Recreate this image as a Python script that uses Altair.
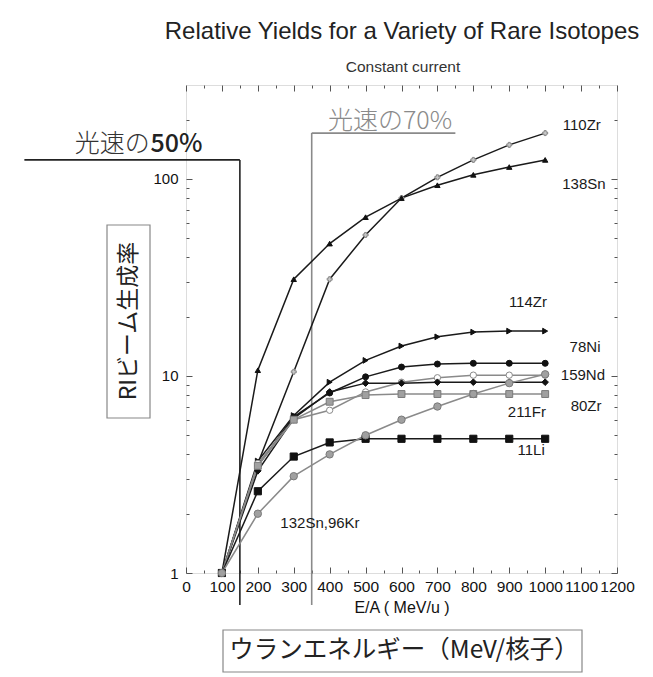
import altair as alt
import pandas as pd

# ---------------- data ----------------
energy = [100, 200, 300, 400, 500, 600, 700, 800, 900, 1000]

series_names = ["110Zr", "138Sn", "114Zr", "78Ni", "159Nd", "80Zr", "211Fr", "11Li", "132Sn,96Kr"]
y_110Zr = [1, 3.6, 10.5, 31, 52, 80, 102, 125, 149, 171]
y_138Sn = [1, 10.7, 31, 47, 64, 80, 93, 105, 115, 125]
y_114Zr = [1, 3.7, 6.3, 9.3, 12.0, 14.2, 15.8, 16.7, 16.9, 16.9]
y_78Ni = [1, 3.5, 6.2, 8.2, 9.9, 11.1, 11.5, 11.6, 11.6, 11.6]
y_159Nd = [1, 3.6, 6.0, 6.7, 8.3, 9.3, 9.8, 10.1, 10.1, 10.1]
y_80Zr = [1, 3.3, 6.1, 8.3, 9.2, 9.2, 9.3, 9.3, 9.3, 9.3]
y_211Fr = [1, 3.5, 6.0, 7.4, 8.0, 8.1, 8.1, 8.1, 8.1, 8.1]
y_11Li = [1, 2.6, 3.9, 4.6, 4.8, 4.8, 4.8, 4.8, 4.8, 4.8]
y_132Sn96Kr = [1, 2.0, 3.1, 4.0, 5.0, 6.0, 7.0, 8.1, 9.2, 10.2]
series_values = [y_110Zr, y_138Sn, y_114Zr, y_78Ni, y_159Nd, y_80Zr, y_211Fr, y_11Li, y_132Sn96Kr]

label_x = [1102, 1108, 952, 1111, 1105, 1114, 949, 961, 373]
label_y = [188, 94, 23.7, 14.0, 10.1, 7.04, 6.57, 4.21, 1.79]

x_major = list(range(0, 1300, 100))
x_minor = list(range(50, 1200, 100))
y_major = [1, 10, 100]
y_minor = [2, 3, 4, 5, 6, 7, 8, 9, 20, 30, 40, 50, 60, 70, 80, 90, 200]

# speed-of-light guides (MeV/u)
c50_x, c70_x = 150, 350

# ---------------- styles ----------------
line_colors = ["#1a1a1a", "#1a1a1a", "#1a1a1a", "#1a1a1a", "#8a8a8a", "#1a1a1a", "#8a8a8a", "#1a1a1a", "#8a8a8a"]
shapes = ["cross", "triangle-up", "triangle-right", "circle", "circle", "diamond", "square", "square", "circle"]
fills = ["#c8c8c8", "#111111", "#111111", "#111111", "#ffffff", "#111111", "#a0a0a0", "#111111", "#a0a0a0"]
strokes = ["#888888", "#111111", "#111111", "#111111", "#8a8a8a", "#111111", "#7a7a7a", "#111111", "#7a7a7a"]
sizes = [25, 55, 50, 55, 50, 30, 30, 40, 50]

rows = []
for name, vals in zip(series_names, series_values):
    for e, v in zip(energy, vals):
        rows.append({"series": name, "E": e, "Y": v})
df = pd.DataFrame(rows)
labels_df = pd.DataFrame({"series": series_names, "lx": label_x, "ly": label_y})

FONT = "Liberation Sans"
JP = "Noto Sans CJK JP"

x_scale = alt.Scale(domain=[0, 1200], nice=False, zero=False)
y_scale = alt.Scale(type="log", domain=[1, 300], nice=False)

def ax(orient, values, size, labels=False, **kw):
    return alt.Axis(orient=orient, values=values, tickSize=size, offset=-size, domain=False,
                    grid=False, labels=labels, tickColor="#555", tickWidth=1, **kw)

# main lines with bottom/left major axes
lines = alt.Chart(df).mark_line(strokeWidth=1.5).encode(
    x=alt.X("E:Q", scale=x_scale,
            axis=ax("bottom", x_major, 6, labels=True, labelPadding=6, labelFontSize=15.5,
                    labelFont=FONT, labelColor="#111", labelOverlap=False, labelFlush=False,
                    format="d",
                    title="E/A  ( MeV/u )", titleFont=FONT, titleFontSize=16,
                    titleFontWeight="normal", titleColor="#111", titlePadding=5)),
    y=alt.Y("Y:Q", scale=y_scale,
            axis=ax("left", y_major, 6, labels=True, labelPadding=8, labelFontSize=15,
                    labelFont=FONT, labelColor="#111", labelOverlap=False, format="d", title=None)),
    color=alt.Color("series:N", scale=alt.Scale(domain=series_names, range=line_colors), legend=None),
    detail="series:N",
)

points = alt.Chart(df).mark_point(filled=True, opacity=1, strokeWidth=1).encode(
    x=alt.X("E:Q", scale=x_scale, axis=ax("bottom", x_minor, 3, title=None)),
    y=alt.Y("Y:Q", scale=y_scale, axis=ax("left", y_minor, 3, title=None)),
    shape=alt.Shape("series:N", scale=alt.Scale(domain=series_names, range=shapes), legend=None),
    fill=alt.Fill("series:N", scale=alt.Scale(domain=series_names, range=fills), legend=None),
    stroke=alt.Stroke("series:N", scale=alt.Scale(domain=series_names, range=strokes), legend=None),
    size=alt.Size("series:N", scale=alt.Scale(domain=series_names, range=sizes), legend=None),
)

frame_top = alt.Chart(df).mark_point(opacity=0).encode(
    x=alt.X("E:Q", scale=x_scale, axis=ax("top", x_major, 6, title=None)),
    y=alt.Y("Y:Q", scale=y_scale, axis=ax("right", y_major, 6, title=None)),
)
frame_top_minor = alt.Chart(df).mark_point(opacity=0).encode(
    x=alt.X("E:Q", scale=x_scale, axis=ax("top", x_minor, 3, title=None)),
    y=alt.Y("Y:Q", scale=y_scale, axis=ax("right", y_minor, 3, title=None)),
)

series_labels = alt.Chart(labels_df).mark_text(font=FONT, fontSize=15, color="#1a1a1a").encode(
    x=alt.X("lx:Q", scale=x_scale, axis=None),
    y=alt.Y("ly:Q", scale=y_scale, axis=None),
    text="series:N",
)

# speed-of-light guide lines (data coordinates)
g50_df = pd.DataFrame({"x": [-450, c50_x], "x2": [c50_x, c50_x], "y": [125, 125], "y2": [125, 0.688]})
g70_df = pd.DataFrame({"x": [c70_x, c70_x], "x2": [750, c70_x], "y": [171, 171], "y2": [171, 0.688]})

def guide(d, color):
    return alt.Chart(d).mark_rule(strokeWidth=1.6, color=color).encode(
        x=alt.X("x:Q", scale=x_scale, axis=None), x2="x2:Q",
        y=alt.Y("y:Q", scale=y_scale, axis=None), y2="y2:Q")

g50 = guide(g50_df, "#222222")
g70 = guide(g70_df, "#8a8a8a")

t50a_df = pd.DataFrame({"x": [-101], "y": [150], "t": ["光速の"]})
t50b_df = pd.DataFrame({"x": [-99], "y": [150], "t": ["50%"]})
t70_df = pd.DataFrame({"x": [568], "y": [198], "t": ["光速の70%"]})

def gtext(d, align, color, weight, size):
    return alt.Chart(d).mark_text(font=JP, fontSize=size, align=align, color=color, fontWeight=weight).encode(
        x=alt.X("x:Q", scale=x_scale, axis=None),
        y=alt.Y("y:Q", scale=y_scale, axis=None),
        text="t:N")

t50a = gtext(t50a_df, "right", "#333333", 300, 25)
t50b = gtext(t50b_df, "left", "#222222", 500, 25)
t70 = gtext(t70_df, "center", "#8a8a8a", 300, 25)

one = pd.DataFrame({"k": [0]})
title = alt.Chart(one).mark_text(text="Relative Yields for a Variety of Rare Isotopes", font=FONT,
                                 fontSize=24, color="#222").encode(x=alt.value(216), y=alt.value(-53))
subtitle = alt.Chart(one).mark_text(text="Constant current", font=FONT, fontSize=15.5,
                                    color="#333").encode(x=alt.value(217), y=alt.value(-18))

ybox = alt.Chart(one).mark_rect(fill="white", stroke="#888", strokeWidth=1.2).encode(
    x=alt.value(-79), x2=alt.value(-36), y=alt.value(140), y2=alt.value(333))
ybox_text = alt.Chart(one).mark_text(text="RIビーム生成率", font=JP, fontSize=23, angle=270,
                                     color="#222").encode(x=alt.value(-57), y=alt.value(236))
xbox = alt.Chart(one).mark_rect(fill="white", stroke="#888", strokeWidth=1.2).encode(
    x=alt.value(37), x2=alt.value(396), y=alt.value(545), y2=alt.value(587))
xbox_text = alt.Chart(one).mark_text(text="ウランエネルギー（MeV/核子）", font=JP, fontSize=24.5,
                                     color="#222").encode(x=alt.value(218), y=alt.value(566))

chart = alt.layer(
    frame_top, frame_top_minor, g50, g70, lines, points, series_labels, t50a, t50b, t70,
    title, subtitle, ybox, ybox_text, xbox, xbox_text,
).resolve_axis(x="independent", y="independent").properties(
    width=431, height=488, autosize="none",
    padding={"left": 178, "top": 77, "right": 28, "bottom": 104},
).configure_view(stroke="#888", strokeWidth=1).configure(background="white")

chart.save("out.html", embed_options={"renderer": "svg", "actions": False})
